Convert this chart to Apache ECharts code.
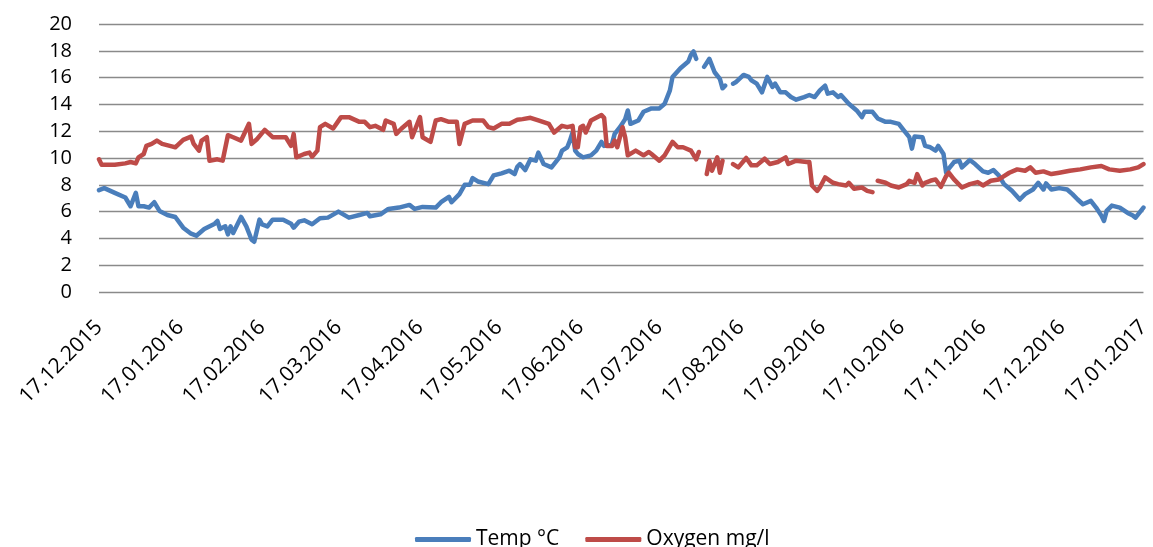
<!DOCTYPE html>
<html>
<head>
<meta charset="utf-8">
<script src="https://cdn.jsdelivr.net/npm/echarts@6/dist/echarts.min.js"></script>
<style>
  html, body { margin: 0; padding: 0; background: #fff; }
  #chart { width: 1153px; height: 547px; }
</style>
</head>
<body>
<div id="chart"></div>
<script>
// days counted from 17.12.2015
const monthDays = [0, 31, 62, 91, 122, 152, 183, 213, 244, 275, 305, 336, 366, 397];
const monthLabels = ['17.12.2015', '17.01.2016', '17.02.2016', '17.03.2016', '17.04.2016', '17.05.2016',
  '17.06.2016', '17.07.2016', '17.08.2016', '17.09.2016', '17.10.2016', '17.11.2016', '17.12.2016', '17.01.2017'];

const tempDays = [0, 2, 6, 10, 12, 14, 15, 17, 19, 21, 23, 26, 29, 32, 35, 37, 40, 44, 45, 46, 48, 49, 50, 51, 54, 56, 58, 59,
  61, 62, 64, 66, 70, 73, 74, 76, 78, 81, 84, 87, 91, 95, 99, 102, 103, 107, 110, 114, 118, 120, 123, 128, 130, 133, 134,
  137, 139, 141, 142, 144, 148, 150, 153, 156, 158, 159, 160, 162, 164, 166, 167, 169, 172, 175, 176, 178, 179, 180, 181,
  182, 184, 187, 189, 191, 192, 195, 196, 198, 200, 201, 202, 205, 207, 210, 213, 215, 217, 218, 221, 224, 225, 226, 227,
  228, 230, 232, 234, 236, 237, 238, 239, 241, 242, 245, 247, 248, 250, 252, 254, 256, 257, 259, 261, 263, 265, 268, 270,
  272, 274, 276, 277, 279, 281, 282, 285, 288, 290, 291, 294, 296, 299, 301, 304, 306, 308, 309, 310, 313, 314, 316, 318,
  319, 321, 322, 323, 325, 327, 328, 331, 333, 336, 338, 340, 342, 344, 347, 350, 352, 355, 357, 359, 360, 362, 365, 368,
  370, 372, 374, 377, 379, 381, 382, 383, 385, 388, 391, 393, 394, 397];
const tempValues = [7.6, 7.75, 7.4, 7.05, 6.4, 7.4, 6.4, 6.4, 6.3, 6.7, 6.05, 5.75, 5.6, 4.8, 4.35, 4.2, 4.7, 5.1, 5.3, 4.7,
  4.9, 4.3, 4.9, 4.4, 5.6, 4.9, 3.9, 3.75, 5.4, 5.05, 4.9, 5.4, 5.4, 5.1, 4.8, 5.25, 5.35, 5.05, 5.5, 5.55, 6.0, 5.55, 5.75,
  5.9, 5.65, 5.8, 6.2, 6.3, 6.5, 6.2, 6.35, 6.3, 6.7, 7.1, 6.7, 7.3, 8.0, 8.0, 8.5, 8.25, 8.05, 8.7, 8.85, 9.05, 8.8, 9.35,
  9.55, 9.1, 9.9, 9.8, 10.4, 9.55, 9.3, 10.05, 10.55, 10.8, 11.3, 11.9, 10.55, 10.3, 10.05, 10.2, 10.55, 11.2, 10.9, 11.05,
  11.8, 12.3, 12.9, 13.55, 12.55, 12.8, 13.45, 13.7, 13.7, 14.05, 15.05, 16.05, 16.7, 17.2, 17.7, 17.95, 17.4,
  null, 16.8, 17.4, 16.4, 15.9, 15.2, 15.4, null, 15.55, 15.65, 16.2, 16.05, 15.8, 15.55, 14.9, 16.05, 15.3, 15.55, 14.9,
  14.9, 14.55, 14.35, 14.55, 14.7, 14.55, 15.05, 15.4, 14.8, 14.9, 14.55, 14.7, 14.05, 13.55, 13.05, 13.45, 13.45, 12.95,
  12.7, 12.7, 12.55, 12.05, 11.55, 10.7, 11.6, 11.55, 10.9, 10.8, 10.55, 10.9, 10.3, 8.9, 9.2, 9.7, 9.8, 9.3, 9.85, 9.55,
  9.0, 8.9, 9.1, 8.7, 8.05, 7.55, 6.9, 7.3, 7.65, 8.15, 7.65, 8.1, 7.65, 7.75, 7.65, 7.3, 6.9, 6.55, 6.8, 6.3, 5.7, 5.3,
  6.05, 6.45, 6.3, 5.9, 5.7, 5.55, 6.3];

const oxyDays = [0, 1, 2, 6, 10, 12, 14, 15, 17, 18, 20, 22, 24, 28, 29, 32, 35, 36, 38, 39, 41, 42, 45, 47, 49, 51, 54,
  57, 58, 60, 63, 66, 71, 73, 74, 75, 78, 80, 81, 83, 84, 86, 89, 92, 95, 99, 101, 103, 105, 108, 109, 112, 113, 115, 118,
  119, 122, 123, 126, 128, 130, 133, 136, 137, 139, 142, 146, 148, 150, 153, 156, 159, 161, 164, 167, 171, 173, 176, 178,
  180, 181, 182, 183, 184, 185, 187, 191, 192, 193, 195, 196, 197, 199, 200, 201, 204, 207, 209, 210, 213, 215, 218, 220,
  222, 225, 227, 228, 229, 231, 232, 233, 235, 236, 237, 238, 241, 243, 246, 248, 250, 253, 255, 258, 261, 262, 265, 269,
  270, 271, 273, 274, 276, 279, 281, 284, 285, 287, 290, 292, 294, 295, 296, 299, 301, 304, 307, 308, 310, 311, 313, 314,
  316, 318, 320, 322, 323, 325, 328, 331, 334, 336, 339, 342, 344, 346, 349, 352, 354, 356, 359, 362, 365, 369, 373, 377,
  381, 384, 388, 392, 395, 397];
const oxyValues = [9.9, 9.5, 9.5, 9.5, 9.6, 9.7, 9.6, 10.05, 10.3, 10.9, 11.05, 11.3, 11.05, 10.85, 10.8, 11.35, 11.6,
  11.05, 10.55, 11.3, 11.55, 9.8, 9.9, 9.8, 11.7, 11.55, 11.3, 12.55, 11.05, 11.4, 12.1, 11.55, 11.55, 10.9, 11.8, 10.05,
  10.3, 10.4, 10.1, 10.55, 12.3, 12.55, 12.2, 13.05, 13.05, 12.7, 12.7, 12.3, 12.4, 12.1, 12.8, 12.55, 11.8, 12.2, 12.7,
  11.55, 13.05, 11.55, 11.2, 12.8, 12.9, 12.7, 12.7, 11.05, 12.55, 12.8, 12.8, 12.3, 12.2, 12.55, 12.55, 12.85, 12.9,
  13.0, 12.8, 12.55, 11.9, 12.4, 12.3, 12.4, 10.8, 10.8, 12.3, 12.4, 11.9, 12.8, 13.2, 13.0, 10.9, 10.9, 11.3, 10.8, 12.3,
  11.55, 10.2, 10.55, 10.2, 10.45, 10.3, 9.8, 10.2, 11.2, 10.8, 10.8, 10.55, 9.9, 10.45, null, 8.8, 9.8, 9.05, 10.05, 8.9,
  9.8, null, 9.55, 9.3, 10.0, 9.45, 9.45, 9.95, 9.55, 9.7, 10.05, 9.55, 9.8, 9.7, 9.7, 7.95, 7.55, 7.8, 8.55, 8.15, 8.05,
  7.95, 8.15, 7.7, 7.8, 7.55, 7.45, null, 8.3, 8.15, 7.95, 7.8, 8.05, 8.3, 8.15, 8.8, 7.95, 8.15, 8.3, 8.4, 7.85, 8.65,
  8.9, 8.4, 7.8, 8.05, 8.2, 7.95, 8.3, 8.4, 8.65, 8.9, 9.15, 9.05, 9.3, 8.9, 9.0, 8.8, 8.9, 9.05, 9.15, 9.3, 9.4, 9.15,
  9.05, 9.15, 9.3, 9.55];

function pairs(days, values) {
  return days.map((d, i) => [d, values[i] == null ? '-' : values[i]]);
}

const chart = echarts.init(document.getElementById('chart'));
const font = 'Open Sans';
chart.setOption({
  animation: false,
  backgroundColor: '#fff',
  grid: { left: 99, right: 1, top: 24, bottom: 255 },
  xAxis: {
    type: 'value',
    min: 0,
    max: 397,
    axisLine: { show: false },
    axisTick: { show: false },
    splitLine: { show: false },
    axisLabel: {
      customValues: monthDays,
      rotate: 45,
      margin: 32,
      color: '#000',
      fontFamily: font,
      fontSize: 21,
      formatter: v => monthLabels[monthDays.indexOf(v)] || ''
    }
  },
  yAxis: {
    type: 'value',
    min: 0,
    max: 20,
    interval: 2,
    axisLine: { show: false },
    axisTick: { show: false },
    axisLabel: { color: '#000', fontFamily: font, fontSize: 20, margin: 27 },
    splitLine: { lineStyle: { color: '#8a8a8a', width: 1.3 } }
  },
  legend: {
    left: 410,
    top: 524,
    itemWidth: 56,
    itemHeight: 5,
    itemGap: 26,
    icon: 'roundRect',
    textStyle: { color: '#000', fontFamily: font, fontSize: 21 },
    data: ['Temp °C', 'Oxygen mg/l']
  },
  series: [
    {
      name: 'Temp °C',
      type: 'line',
      data: pairs(tempDays, tempValues),
      showSymbol: false,
      connectNulls: false,
      color: '#4a7ebb',
      lineStyle: { width: 4.5, cap: 'round', join: 'round' }
    },
    {
      name: 'Oxygen mg/l',
      type: 'line',
      data: pairs(oxyDays, oxyValues),
      showSymbol: false,
      connectNulls: false,
      color: '#be4b48',
      lineStyle: { width: 4.5, cap: 'round', join: 'round' }
    }
  ]
});
</script>
</body>
</html>
